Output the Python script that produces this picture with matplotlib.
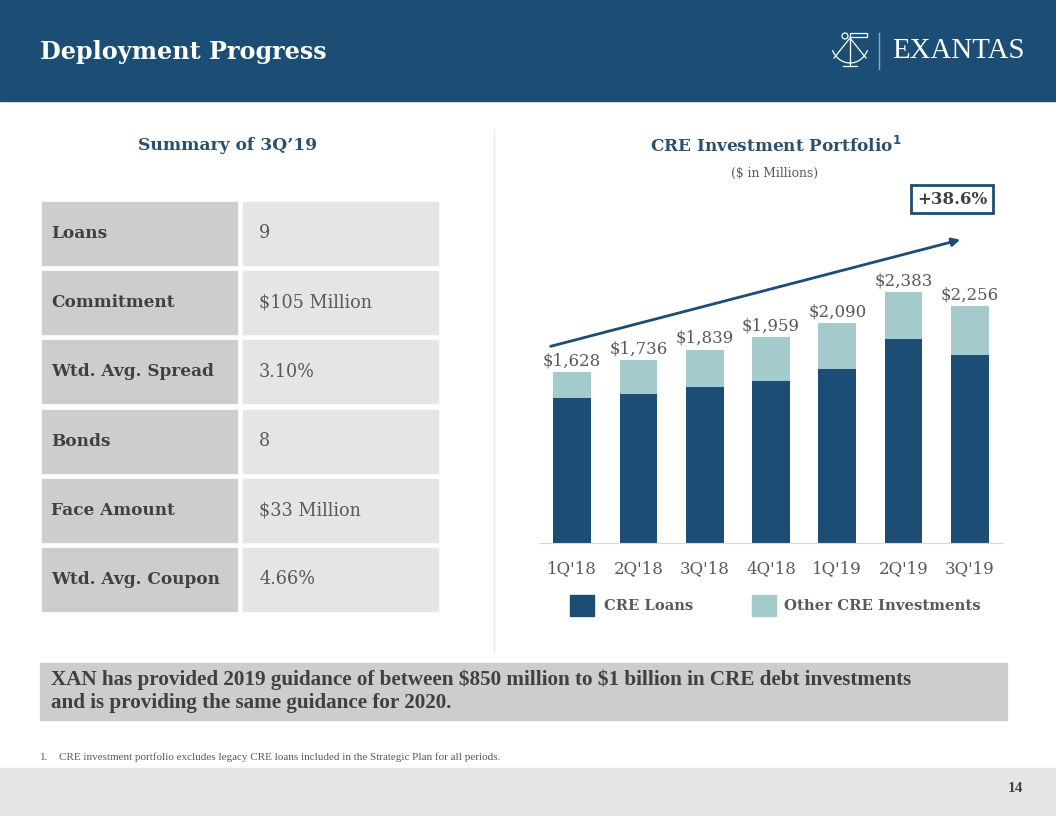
import numpy as np
import matplotlib
matplotlib.use('Agg')
import matplotlib.pyplot as plt
from matplotlib.patches import Rectangle, Arc, Circle

# chart data ($ in millions)
quarters = ["1Q'18", "2Q'18", "3Q'18", "4Q'18", "1Q'19", "2Q'19", "3Q'19"]
totals = [1628, 1736, 1839, 1959, 2090, 2383, 2256]
cre_loans = [1381, 1416, 1483, 1540, 1654, 1939, 1787]
other_cre = [t - l for t, l in zip(totals, cre_loans)]
growth_label = "+38.6%"

# summary table
row_labels = ["Loans", "Commitment", "Wtd. Avg. Spread", "Bonds", "Face Amount", "Wtd. Avg. Coupon"]
row_values = ["9", "$105 Million", "3.10%", "8", "$33 Million", "4.66%"]

NAVY = '#1C4E75'
TEAL = '#A5CACB'
DARK = '#404040'
GREY = '#595959'
SERIF = 'DejaVu Serif'

W, H = 1056, 816
fig = plt.figure(figsize=(W / 100, H / 100), dpi=100)
fig.patch.set_facecolor('white')

# background axes in pixel coords
bg = fig.add_axes([0, 0, 1, 1])
bg.set_xlim(0, W)
bg.set_ylim(H, 0)
bg.axis('off')

# header band
bg.add_patch(Rectangle((0, 0), W, 101, color=NAVY, zorder=0))
bg.text(40, 52, "Deployment Progress", color='white', fontsize=17.2, fontweight='bold',
        family=SERIF, va='center', ha='left')

# logo: rough sextant + wordmark
lw = 0.9
bg.add_patch(Arc((850, 42), 38, 42, theta1=25, theta2=155, color='white', lw=lw))
bg.plot([850, 834], [38, 58], color='white', lw=lw)
bg.plot([850, 866], [38, 58], color='white', lw=lw)
bg.plot([850, 850], [38, 66], color='white', lw=lw)
bg.plot([843, 857], [66, 66], color='white', lw=lw)
bg.add_patch(Circle((845, 36), 3, fill=False, ec='white', lw=lw))
bg.add_patch(Rectangle((850, 33), 17, 4, fill=False, ec='white', lw=lw))
bg.plot([879, 879], [33, 69], color='#8FA8C0', lw=1)
bg.text(892, 51, "EXANTAS", color='white', fontsize=20.8, family='Liberation Serif',
        va='center', ha='left')

# left: summary table
bg.text(228, 146, "Summary of 3Q\u201919", color='#2B4F70', fontsize=12.3, fontweight='bold',
        family=SERIF, ha='center', va='center')
y0, step, ch = 202, 69.2, 63
for i, (lab, val) in enumerate(zip(row_labels, row_values)):
    y = y0 + i * step
    bg.add_patch(Rectangle((42, y), 195, ch, color='#CDCDCF', zorder=1))
    bg.add_patch(Rectangle((243, y), 195, ch, color='#E5E5E5', zorder=1))
    bg.text(51, y + ch / 2, lab, color=DARK, fontsize=12.2, fontweight='bold',
            family=SERIF, va='center', ha='left', zorder=2)
    bg.text(259, y + ch / 2, val, color=GREY, fontsize=12.7, family=SERIF,
            va='center', ha='left', zorder=2)

# divider
bg.plot([494, 494], [130, 652], color='#E8E8E8', lw=1)

# right: chart titles
bg.text(776, 146, "CRE Investment Portfolio$^{\\mathbf{1}}$", color='#2B4F70', fontsize=12.2,
        fontweight='bold', family=SERIF, ha='center', va='center')
bg.text(775, 173, "($ in Millions)", color=GREY, fontsize=8.8, family=SERIF,
        ha='center', va='center')
bg.text(952, 199, growth_label, color=DARK, fontsize=12, fontweight='bold', family=SERIF,
        ha='center', va='center',
        bbox=dict(boxstyle='square,pad=0.35', fc='white', ec=NAVY, lw=2))

# growth arrow
bg.annotate('', xy=(963, 239), xytext=(548, 347),
            arrowprops=dict(arrowstyle='-|>', color=NAVY, lw=2, mutation_scale=12))

# bar chart axes: x 539..1003, baseline y=543, 0.1052 px per $M
scale = 0.1052
ymax = 2800
ax_h = ymax * scale
ax = fig.add_axes([539 / W, (H - 543) / H, (1003 - 539) / W, ax_h / H])
x = np.arange(len(quarters))
ax.bar(x, cre_loans, width=0.57, color=NAVY, label='CRE Loans')
ax.bar(x, other_cre, width=0.57, bottom=cre_loans, color=TEAL, label='Other CRE Investments')
for xi, t in zip(x, totals):
    ax.text(xi, t + 25, f"${t:,}", ha='center', va='bottom', color=GREY,
            fontsize=12, family=SERIF)
ax.set_xlim(-0.5, 6.5)
ax.set_ylim(0, ymax)
ax.set_xticks(x)
ax.set_xticklabels(quarters, color=GREY, fontsize=12, family=SERIF)
ax.tick_params(axis='x', length=0, pad=12)
ax.set_yticks([])
for s in ['top', 'left', 'right']:
    ax.spines[s].set_visible(False)
ax.spines['bottom'].set_color('#D9D9D9')
ax.patch.set_alpha(0)

# legend drawn by hand in pixel space
bg.add_patch(Rectangle((570, 595), 24, 21, color=NAVY))
bg.text(604, 606, "CRE Loans", color=GREY, fontsize=10.6, fontweight='bold',
        family=SERIF, va='center', ha='left')
bg.add_patch(Rectangle((752, 595), 24, 21, color=TEAL))
bg.text(784, 606, "Other CRE Investments", color=GREY, fontsize=10.7, fontweight='bold',
        family=SERIF, va='center', ha='left')

# guidance box
bg.add_patch(Rectangle((40, 663), 967, 57, color='#CDCDCF'))
bg.text(51, 680, "XAN has provided 2019 guidance of between \\$850 million to \\$1 billion in CRE debt investments",
        color=DARK, fontsize=15.2, fontweight='bold', family='Liberation Serif', va='center', ha='left')
bg.text(51, 703, "and is providing the same guidance for 2020.",
        color=DARK, fontsize=15.2, fontweight='bold', family='Liberation Serif', va='center', ha='left')

# footnote
bg.text(40, 757, "1.", color=GREY, fontsize=8, family='Liberation Serif', va='center')
bg.text(59, 757, "CRE investment portfolio excludes legacy CRE loans included in the Strategic Plan for all periods.",
        color=GREY, fontsize=8, family='Liberation Serif', va='center')

# footer band
bg.add_patch(Rectangle((0, 768), W, 48, color='#E5E5E5'))
bg.text(1015, 789, "14", color=DARK, fontsize=11, fontweight='bold', family='Liberation Serif',
        ha='center', va='center')

fig.savefig('out.png', dpi=100)
